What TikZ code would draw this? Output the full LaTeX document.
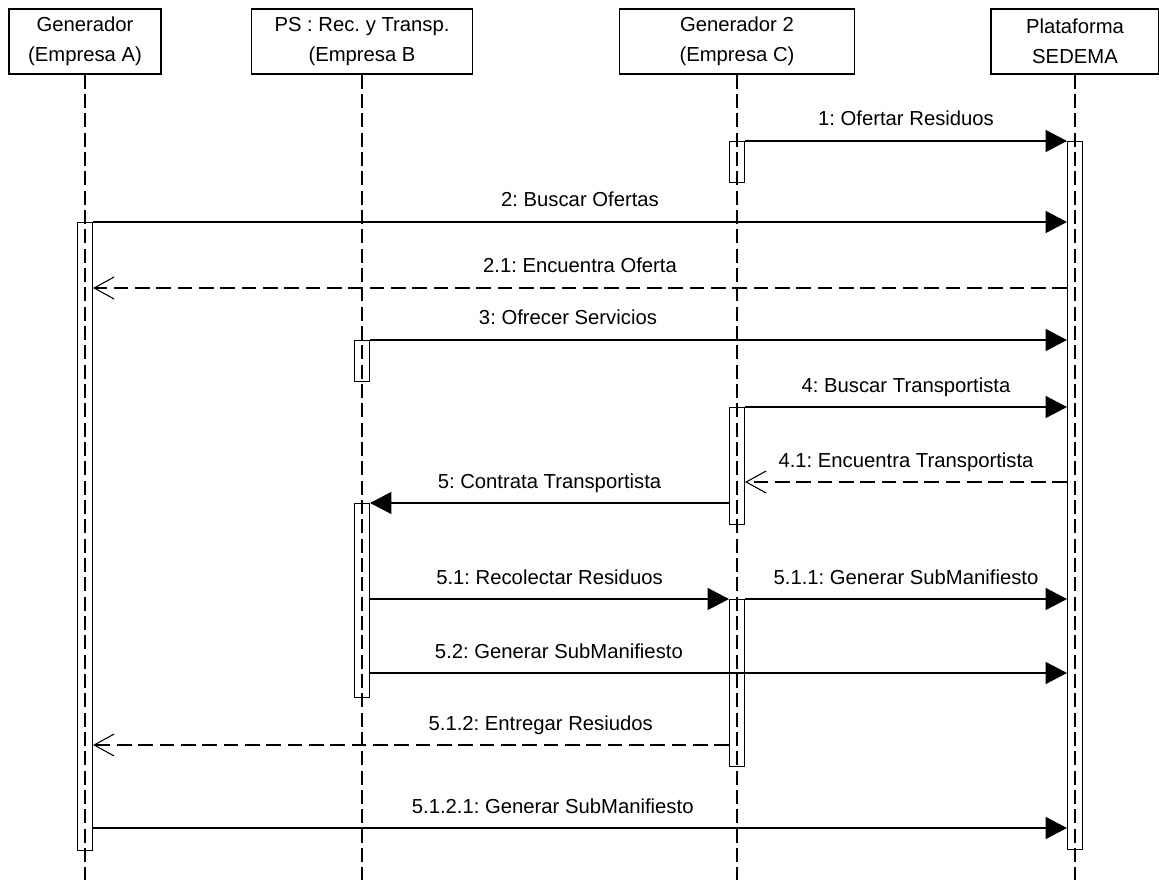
\documentclass[tikz,border=0pt]{standalone}
\usepackage{fontspec}
\setmainfont{Liberation Sans}
\usetikzlibrary{arrows.meta}
\usetikzlibrary{calc}
\frenchspacing

\begin{document}
\begin{tikzpicture}[
        x=0.75pt, y=-0.75pt,
        every node/.style={font=\fontsize{15.2pt}{22.5pt}\selectfont},
        actor/.style={rectangle,draw,line width=0.8pt,align=center,minimum height=48.75pt,inner sep=0pt},
        life/.style={line width=0.9pt,dash pattern=on 10.5pt off 4pt},
        act/.style={rectangle,draw,line width=0.8pt,anchor=north,inner sep=0pt,minimum width=11.25pt,minimum height=#1*0.75pt},
        msg/.style={line width=0.8pt,-{Triangle[length=16pt,width=16.5pt]}},
        ret/.style={line width=0.8pt,dash pattern=on 11pt off 5pt,-{Straight Barb[length=15pt,width=16.5pt]}},
        lbl/.style={midway,anchor=base,yshift=11.25pt,inner sep=0pt},
        ]
        \useasboundingbox (0,0) rectangle (1159,880);

        % participants
        \node[actor,minimum width=114pt](genA) at (85,41.5){Generador\\(Empresa A)};
        \node[actor,minimum width=165.75pt](recB) at (362,41.5){PS : Rec. y Transp.\\(Empresa B};
        \node[actor,minimum width=176.25pt](genC) at (737,41.5){Generador 2\\(Empresa C)};
        \node[actor,minimum width=126pt](sedema) at (1075,41.5){Plataforma\\SEDEMA};

        \coordinate (bottom) at (0,880);
        \foreach \n in {genA,recB,genC,sedema}
            \draw[life] (\n.south) -- (\n.south |- bottom);

        % activations
        \node[act=41](actC1) at (genC |- 0,141){};
        \node[act=708](actP) at (sedema |- 0,141){};
        \node[act=628](actA) at (genA |- 0,222){};
        \node[act=41](actB1) at (recB |- 0,340){};
        \node[act=117](actC2) at (genC |- 0,407){};
        \node[act=194](actB2) at (recB |- 0,503){};
        \node[act=167](actC3) at (genC |- 0,599){};

        % messages
        \draw[msg] (actC1.north east) -- (actC1.north east -| actP.west) node[lbl]{1: Ofertar Residuos};
        \draw[msg] (actA.north east) -- (actA.north east -| actP.west) node[lbl]{2: Buscar Ofertas};
        \draw[ret] (actP.west |- 0,288) -- (actA.east |- 0,288) node[lbl]{2.1: Encuentra Oferta};
        \draw[msg] (actB1.north east) -- (actB1.north east -| actP.west) node[lbl,pos=0.284]{3: Ofrecer Servicios};
        \draw[msg] (actC2.north east) -- (actC2.north east -| actP.west) node[lbl]{4: Buscar Transportista};
        \draw[ret] (actP.west |- 0,482) -- (actC2.east |- 0,482) node[lbl]{4.1: Encuentra Transportista};
        \draw[msg] (actC2.west |- actB2.north) -- (actB2.north east) node[lbl]{5: Contrata Transportista};
        \draw[msg] (actB2.east |- actC3.north) -- (actC3.north west) node[lbl]{5.1: Recolectar Residuos};
        \draw[msg] (actC3.north east) -- (actC3.north east -| actP.west) node[lbl]{5.1.1: Generar SubManifiesto};
        \draw[msg] (actB2.east |- 0,673) -- (actP.west |- 0,673) node[lbl,pos=0.271]{5.2: Generar SubManifiesto};
        \draw[ret] (actC3.west |- 0,745) -- (actA.east |- 0,745) node[lbl,pos=0.296]{5.1.2: Entregar Resiudos};
        \draw[msg] (actA.east |- 0,828) -- (actP.west |- 0,828) node[lbl,pos=0.472]{5.1.2.1: Generar SubManifiesto};
\end{tikzpicture}
\end{document}
